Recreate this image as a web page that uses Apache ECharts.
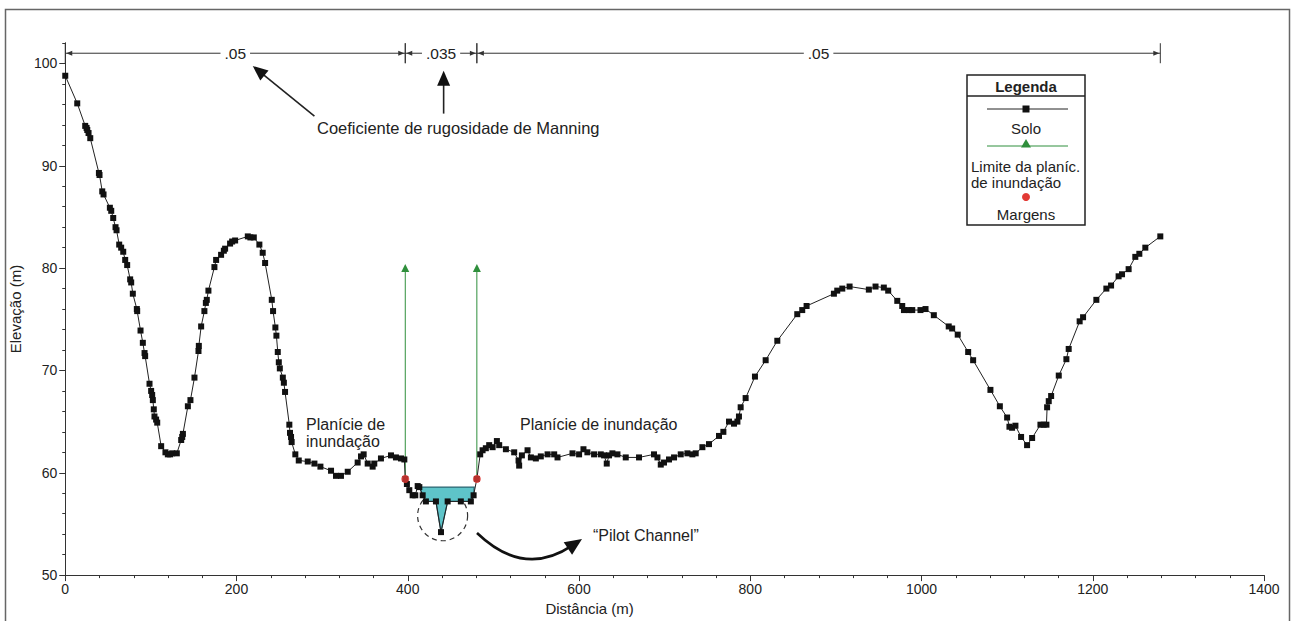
<!DOCTYPE html>
<html><head><meta charset="utf-8">
<script src="https://cdn.jsdelivr.net/npm/echarts@6/dist/echarts.min.js"></script>
<style>html,body{margin:0;padding:0;background:#fff}#c{width:1292px;height:621px}</style>
</head><body><div id="c"></div>
<script>
// ---------- DATA ----------
const soloDist = [0,14,23.3,24.9,25.7,27.2,29.2,39.3,40,43.2,44.7,52.1,53.7,56,58.7,59.9,63,65.3,67.7,70,72.3,75.8,77,78.9,83.6,84,87.9,90.6,92.6,93.3,98.4,100.3,101.5,102.3,103.4,104.2,106.1,107.4,112,117,119.8,122.5,124.9,130.3,135.4,136.6,137.4,143.2,146.2,150.9,155.6,156,158.7,162.5,164.2,165.3,167.2,174.2,176.2,182,185.2,186.7,192.5,194.9,198.4,213.2,216.2,220.2,226.7,230.6,233.4,241.2,242.7,245.4,246.6,248.2,249.4,250.6,254.1,255.3,256.7,261.7,262.5,263.7,264.4,268.7,272.7,283.2,291,298,310.4,316.2,322,329.9,341.5,345.4,348.5,353.2,359,360.9,368.7,380.4,386.2,392.1,396,397.1,399,401.8,405.7,408.8,411.6,413.5,417.4,421.2,432.9,438.8,446.6,462,473.7,476.9,480.7,484.6,487.4,491.2,495.1,499.1,504.1,506.8,514.6,524.3,529.4,530.1,533.3,539.9,543.8,549.6,555.4,563.3,571,574.9,592.4,600.1,605.2,609.8,617.6,625.4,629.3,632.4,635.1,639,644.9,654.6,670.1,687.6,691.6,695.5,699.3,705.1,711,718.8,726.6,732.4,736.3,744.1,751.8,763.5,768.6,775.2,781,785,786.8,788.8,794.6,805.5,818,831.6,854.9,860.7,865.8,897.7,901.6,907.5,916,938.5,946.3,956,961.1,971.7,977.5,979.5,985.2,989.2,998.8,1004.7,1014.4,1031.8,1035.8,1042.3,1054.5,1060.3,1080.5,1091.5,1100,1102.7,1105.8,1109.7,1116.3,1123.3,1129.2,1138.9,1142.7,1145.9,1146.7,1148.6,1151.4,1160.3,1169.2,1171.9,1184.7,1188.7,1204.2,1215.9,1221.4,1230.2,1234.2,1241.9,1249.7,1254.4,1261.4,1278.9];
const soloElev = [98.8,96.1,93.9,93.7,93.5,93.2,92.7,89.3,89.1,87.5,87.2,85.9,85.6,84.9,84.0,83.7,82.3,82.0,81.6,80.8,80.3,78.9,78.6,77.5,76.0,75.8,73.9,72.7,71.7,71.4,68.7,68.0,67.6,67.1,66.2,65.5,65.2,64.9,62.6,62.0,61.8,61.8,61.9,61.9,63.2,63.5,63.8,66.5,67.1,69.3,71.9,72.4,74.3,75.8,76.6,76.9,77.8,80.1,80.8,81.3,81.7,81.9,82.4,82.6,82.7,83.1,83.0,83.0,82.3,81.5,80.5,76.9,75.8,74.2,73.4,71.8,70.8,70.2,69.3,68.8,67.9,64.7,63.9,63.5,63.0,61.8,61.2,61.1,60.9,60.6,60.2,59.7,59.7,60.1,61.0,61.6,61.8,60.9,60.6,60.9,61.4,61.7,61.5,61.4,61.3,59.4,58.9,58.3,57.8,57.8,58.7,58.6,57.8,57.2,57.2,54.2,57.2,57.2,57.2,57.8,59.4,61.8,62.2,62.4,62.7,62.5,63.1,62.7,62.3,62.0,61.2,60.7,61.7,62.2,61.5,61.4,61.6,61.8,61.8,61.5,61.9,61.8,62.3,62.0,61.8,61.8,61.7,60.9,61.7,61.9,61.8,61.5,61.5,61.8,61.5,60.8,61.0,61.3,61.5,61.8,61.9,61.8,61.9,62.5,62.8,63.6,64.0,65.0,64.8,65.0,65.5,66.4,67.3,69.4,71.0,72.9,75.5,75.9,76.3,77.5,77.8,78.0,78.2,77.9,78.2,78.1,77.8,76.8,76.3,75.9,75.9,75.9,75.9,76.0,75.4,74.3,74.1,73.5,71.8,71.0,68.1,66.5,65.4,64.5,64.4,64.6,63.5,62.7,63.4,64.7,64.7,64.7,66.4,67.0,67.5,69.5,71.1,72.1,74.8,75.2,76.9,78.0,78.3,79.2,79.4,79.9,81.1,81.4,82.0,83.1];
const margensDist = [397.1, 480.7];
const margensElev = [59.4, 59.4];
const limiteDist = [397.1, 480.7];
const limiteBase = [59.4, 59.4];
const limiteTop = [80, 80];
const manningBreaks = [0, 397.1, 480.7, 1278.9];
const manningLabels = ['.05', '.035', '.05'];
const manningElev = [101, 101, 101];
const channelDist = [414, 477.6, 476.9, 473.7, 446.6, 438.8, 432.9, 421.2, 417.4];
const channelElev = [58.6, 58.6, 57.8, 57.2, 57.2, 54.2, 57.2, 57.2, 57.8];
const xTickLabels = ['0','200','400','600','800','1000','1200','1400'];
const yTickValues = [50, 60, 70, 80, 90, 100];

// ---------- CHART ----------
const FONT = '"Liberation Sans", Arial, sans-serif';
const chart = echarts.init(document.getElementById('c'), null, {renderer: 'svg'});
const solo = soloDist.map((d, i) => [d, soloElev[i]]);
const margens = margensDist.map((d, i) => [d, margensElev[i]]);
const manningData = manningLabels.map((l, i) => [manningBreaks[i], manningBreaks[i + 1], manningElev[i], i]);

const limiteSeries = limiteDist.map((d, i) => ({
  type: 'line', name: 'Limite da planíc. de inundação', yAxisIndex: 0,
  data: [{value: [d, limiteBase[i]], symbol: 'none'}, {value: [d, limiteTop[i]], symbol: 'triangle', symbolSize: 8}],
  lineStyle: {color: '#2f8f3c', width: 1}, itemStyle: {color: '#2f8f3c'},
  z: 2, silent: true
}));

function arrowHead(tip, from, len, hw, color) {
  const dx = tip[0] - from[0], dy = tip[1] - from[1];
  const L = Math.sqrt(dx * dx + dy * dy);
  const ux = dx / L, uy = dy / L, nx = -uy, ny = ux;
  const bx = tip[0] - ux * len, by = tip[1] - uy * len;
  return {type: 'polygon', shape: {points: [tip, [bx + nx * hw, by + ny * hw], [bx - nx * hw, by - ny * hw]]}, style: {fill: color}, silent: true};
}

const option = {
  animation: false,
  backgroundColor: '#fff',
  grid: {left: 64, right: 28, top: 43, bottom: 40},
  xAxis: {
    type: 'value', min: 0, max: 1400, interval: 200,
    name: 'Distância (m)', nameLocation: 'middle', nameGap: 24,
    nameTextStyle: {fontFamily: FONT, fontSize: 15, color: '#222', padding: [0, 150, 0, 0]},
    axisLine: {lineStyle: {color: '#333', width: 1}},
    axisTick: {show: true, length: 6, lineStyle: {color: '#333'}},
    minorTick: {show: true, splitNumber: 5, length: 3, lineStyle: {color: '#333'}},
    splitLine: {show: false},
    axisLabel: {fontFamily: FONT, fontSize: 14, color: '#222', margin: 7,
      formatter: (v) => xTickLabels[Math.round(v / 200)]}
  },
  yAxis: [{
    type: 'value', min: 50, max: 102, interval: 10,
    name: 'Elevação (m)', nameLocation: 'middle', nameGap: 32, nameRotate: 90,
    nameTextStyle: {fontFamily: FONT, fontSize: 15, color: '#222'},
    axisLine: {show: true, lineStyle: {color: '#333', width: 1}},
    axisTick: {show: true, length: 6, customValues: yTickValues, lineStyle: {color: '#333'}},
    axisLabel: {fontFamily: FONT, fontSize: 14, color: '#222', margin: 8, customValues: yTickValues},
    splitLine: {show: false}
  }, {
    type: 'value', min: 50, max: 102, interval: 2, position: 'left', offset: 0,
    axisLine: {show: true, lineStyle: {color: '#333', width: 1}},
    axisTick: {show: true, length: 3, lineStyle: {color: '#333'}},
    axisLabel: {show: false}, splitLine: {show: false}
  }],
  series: [
    {
      type: 'custom', name: 'channel', yAxisIndex: 0, silent: true, z: 1,
      data: [[channelDist[0], channelElev[0]]],
      renderItem: function (params, api) {
        const pts = channelDist.map((d, i) => api.coord([d, channelElev[i]]));
        return {type: 'polygon', shape: {points: pts}, style: {fill: '#5ec4c9', stroke: '#2c6470', lineWidth: 1.2}};
      }
    },
    ...limiteSeries,
    {
      type: 'line', name: 'Solo', yAxisIndex: 0, data: solo, z: 3,
      symbol: 'rect', symbolSize: 6, showAllSymbol: true,
      lineStyle: {color: '#222', width: 1}, itemStyle: {color: '#111'}, silent: true
    },
    {
      type: 'scatter', name: 'Margens', yAxisIndex: 0, data: margens, z: 4,
      symbol: 'circle', symbolSize: 8, itemStyle: {color: '#e23a35'}, silent: true
    },
    {
      type: 'custom', name: 'manning', yAxisIndex: 0, silent: true, z: 5,
      data: manningData,
      renderItem: function (params, api) {
        const a = api.coord([api.value(0), api.value(2)]);
        const b = api.coord([api.value(1), api.value(2)]);
        const label = manningLabels[api.value(3)];
        const ch = [];
        ch.push({type: 'line', shape: {x1: a[0], y1: a[1], x2: b[0], y2: b[1]}, style: {stroke: '#333', lineWidth: 1}});
        ch.push({type: 'line', shape: {x1: a[0], y1: a[1] - 10, x2: a[0], y2: a[1] + 10}, style: {stroke: '#333', lineWidth: 1}});
        ch.push({type: 'line', shape: {x1: b[0], y1: b[1] - 10, x2: b[0], y2: b[1] + 10}, style: {stroke: '#333', lineWidth: 1}});
        ch.push({type: 'polygon', shape: {points: [[a[0] + 1, a[1]], [a[0] + 7, a[1] - 2.5], [a[0] + 7, a[1] + 2.5]]}, style: {fill: '#333'}});
        ch.push({type: 'polygon', shape: {points: [[b[0] - 1, b[1]], [b[0] - 7, b[1] - 2.5], [b[0] - 7, b[1] + 2.5]]}, style: {fill: '#333'}});
        ch.push({type: 'text', x: (a[0] + b[0]) / 2, y: a[1],
          style: {text: label, fontFamily: FONT, fontSize: 15.5, fill: '#222', align: 'center', verticalAlign: 'middle',
            backgroundColor: '#fff', padding: [0, 4]}});
        return {type: 'group', children: ch};
      }
    }
  ]
};
chart.setOption(option);

// ---------- ANNOTATIONS (positions in data coords converted to pixels) ----------
const px = (d, e) => chart.convertToPixel({xAxisIndex: 0, yAxisIndex: 0}, [d, e]);
const g = [];
// frame
g.push({type: 'rect', shape: {x: 5.5, y: 9.5, width: 1284, height: 640}, style: {fill: 'none', stroke: '#666', lineWidth: 1.5}, silent: true});
// Manning arrows
const t1 = px(219, 99.75), s1 = px(291, 94.85);
const t2 = px(441.9, 99.3), s2 = px(441.9, 95.1);
[[s1, t1], [s2, t2]].forEach(([s, t]) => {
  const dx = t[0] - s[0], dy = t[1] - s[1], L = Math.hypot(dx, dy);
  const e = [t[0] - dx / L * 12, t[1] - dy / L * 12];
  g.push({type: 'line', shape: {x1: s[0], y1: s[1], x2: e[0], y2: e[1]}, style: {stroke: '#222', lineWidth: 1.6}, silent: true});
  g.push(arrowHead(t, s, 15, 6.5, '#111'));
});
const txt = (text, x, y, opts) => Object.assign({type: 'text', x: x, y: y, silent: true,
  style: Object.assign({text: text, fontFamily: FONT, fontSize: 16, fill: '#222', align: 'left', verticalAlign: 'middle'}, opts || {})});
g.push(txt('Coeficiente de rugosidade de Manning', 317, 128, {fontSize: 16.5}));
g.push(txt('Planície de', 306, 424));
g.push(txt('inundação', 306, 441));
g.push(txt('Planície de inundação', 520, 424));
// pilot channel circle and curved arrow
const cc = px(440.7, 55.8);
g.push({type: 'circle', shape: {cx: cc[0], cy: cc[1], r: 25}, style: {fill: 'none', stroke: '#333', lineWidth: 1.2, lineDash: [5, 4]}, silent: true});
const p0 = [477, 533], cp = [524, 578], tip = [582, 539];
const dxh = tip[0] - cp[0], dyh = tip[1] - cp[1], Lh = Math.hypot(dxh, dyh);
const pend = [tip[0] - dxh / Lh * 12, tip[1] - dyh / Lh * 12];
g.push({type: 'bezierCurve', shape: {x1: p0[0], y1: p0[1], x2: pend[0], y2: pend[1], cpx1: cp[0], cpy1: cp[1]}, style: {stroke: '#111', lineWidth: 2.6, fill: 'none'}, silent: true});
g.push(arrowHead(tip, cp, 17, 7.5, '#111'));
g.push(txt('\u201cPilot Channel\u201d', 593, 535));
// legend box
const LX = 967, LY = 75, LW = 118, LH = 150, LC = LX + LW / 2;
g.push({type: 'rect', shape: {x: LX, y: LY, width: LW, height: LH}, style: {fill: '#fff', stroke: '#222', lineWidth: 1.5}, silent: true});
g.push({type: 'line', shape: {x1: LX, y1: 96, x2: LX + LW, y2: 96}, style: {stroke: '#222', lineWidth: 1.5}, silent: true});
g.push(txt('Legenda', LC, 86, {align: 'center', fontWeight: 'bold', fontSize: 15}));
g.push({type: 'line', shape: {x1: 987, y1: 109, x2: 1068, y2: 109}, style: {stroke: '#222', lineWidth: 1}, silent: true});
g.push({type: 'rect', shape: {x: LC - 3.5, y: 105.5, width: 7, height: 7}, style: {fill: '#111'}, silent: true});
g.push(txt('Solo', LC, 128, {align: 'center', fontSize: 15}));
g.push({type: 'line', shape: {x1: 987, y1: 146, x2: 1068, y2: 146}, style: {stroke: '#2f8f3c', lineWidth: 1}, silent: true});
g.push({type: 'polygon', shape: {points: [[LC, 139], [LC - 5, 147.5], [LC + 5, 147.5]]}, style: {fill: '#2f8f3c'}, silent: true});
g.push(txt('Limite da planíc.', 971, 166, {fontSize: 15}));
g.push(txt('de inundação', 971, 182, {fontSize: 15}));
g.push({type: 'circle', shape: {cx: LC, cy: 197, r: 4}, style: {fill: '#e23a35'}, silent: true});
g.push(txt('Margens', LC, 214, {align: 'center', fontSize: 15}));
chart.setOption({graphic: g});
</script>
</body></html>
